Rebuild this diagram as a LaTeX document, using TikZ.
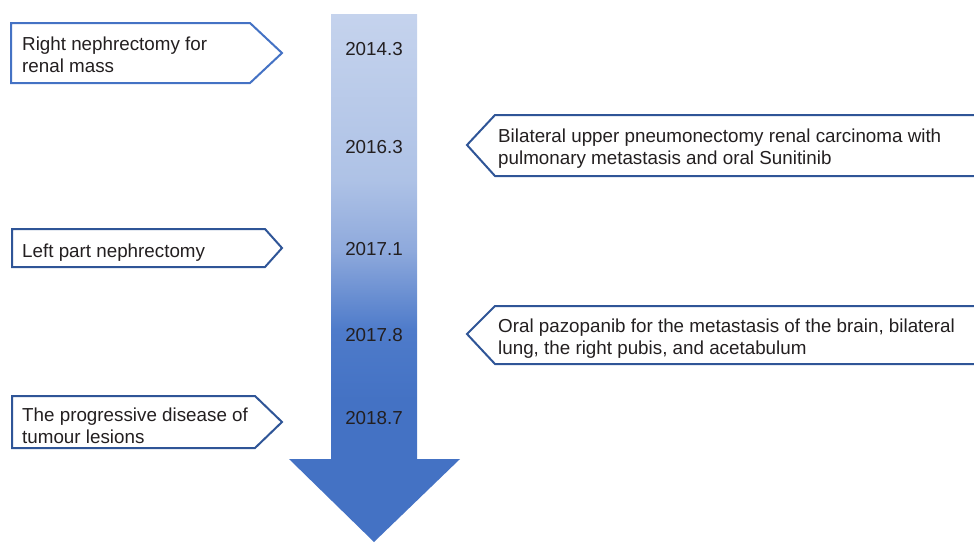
\documentclass[tikz,border=0pt]{standalone}
\usepackage{fontspec}
\setmainfont{Liberation Sans}
\definecolor{txt}{HTML}{231F20}
\definecolor{bluea}{HTML}{4472C4}
\definecolor{navy}{HTML}{2F5597}
\definecolor{sA}{HTML}{4472C4}
\definecolor{sB}{HTML}{4E7BCA}
\definecolor{sC}{HTML}{8EA9DC}
\definecolor{sD}{HTML}{AEC2E6}
\definecolor{sE}{HTML}{C5D3ED}
\pgfdeclareverticalshading{arrowshade}{100bp}{color(0bp)=(sA); color(38.4bp)=(sA); color(45.1bp)=(sB); color(52.6bp)=(sC); color(59.3bp)=(sD); color(75bp)=(sE); color(100bp)=(sE)}
\tikzset{
  box/.style={draw=navy, line width=2pt, fill=white, line join=miter},
  boxtext/.style={text=txt, font=\fontsize{18.8}{22}\selectfont, align=left, inner sep=0pt},
  datetext/.style={text=txt, font=\fontsize{18.8}{22}\selectfont, inner sep=0pt},
}
\begin{document}
\begin{tikzpicture}[x=1pt,y=-1pt]
\useasboundingbox (0,0) rectangle (974,542);
% timeline arrow
\path[shading=arrowshade] (331,14) -- (417,14) -- (417,459) -- (460,459) -- (374,542) -- (289,459) -- (331,459) -- cycle;
% dates
\node[datetext] (d1) at (374,49) {2014.3};
\node[datetext] (d2) at (374,147) {2016.3};
\node[datetext] (d3) at (374,249) {2017.1};
\node[datetext] (d4) at (374,335) {2017.8};
\node[datetext] (d5) at (374,418) {2018.7};
% left boxes
\draw[box, draw=bluea] (11,23) -- (250,23) -- (282,53) -- (250,83) -- (11,83) -- cycle;
\node[boxtext, anchor=west] (b1) at (22,55) {Right nephrectomy for\\renal mass};
\draw[box] (12,229) -- (265,229) -- (282,248) -- (265,267) -- (12,267) -- cycle;
\node[boxtext, anchor=west] (b3) at (22,253) {Left part nephrectomy};
\draw[box] (12,396) -- (255,396) -- (282,422) -- (255,448) -- (12,448) -- cycle;
\node[boxtext, anchor=west] (b5) at (22,426) {The progressive disease of\\tumour lesions};
% right boxes
\draw[box] (980,115) -- (495,115) -- (467,145) -- (495,176) -- (980,176);
\node[boxtext, anchor=west] (b2) at (498,148.5) {Bilateral upper pneumonectomy renal carcinoma with\\pulmonary metastasis and oral Sunitinib};
\draw[box] (980,306) -- (495,306) -- (467,334) -- (495,364) -- (980,364);
\node[boxtext, anchor=west] (b4) at (498,339) {Oral pazopanib for the metastasis of the brain, bilateral\\lung, the right pubis, and acetabulum};
\end{tikzpicture}
\end{document}
